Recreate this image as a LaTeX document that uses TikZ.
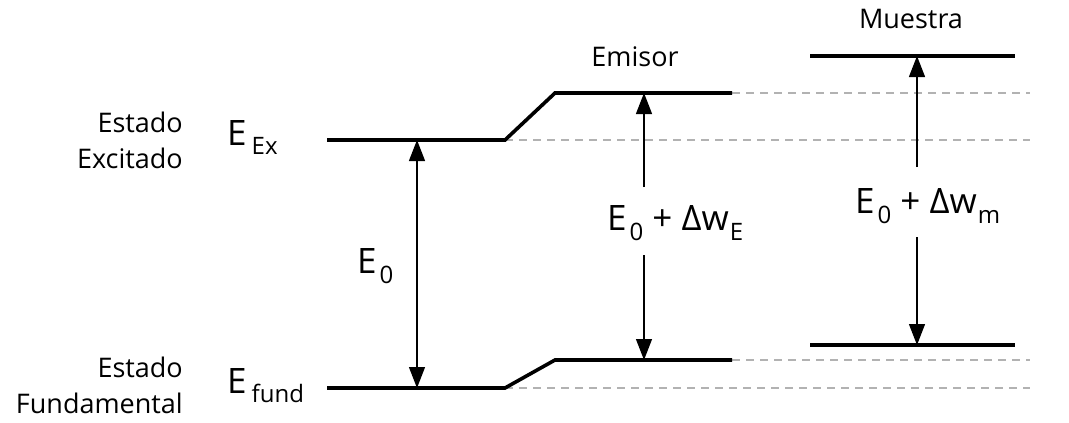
\documentclass[tikz,border=0pt]{standalone}
\usepackage{fontspec}
\setmainfont{Open Sans}
\usepackage{tikz}
\usetikzlibrary{arrows.meta}

\newcommand{\subE}[3]{E\kern#1pt\raisebox{-#2pt}{\fontsize{24}{24}\selectfont #3}}

\tikzset{
  nivel/.style={line width=3.6pt},
  guia/.style={gray!60, line width=1.6pt, dash pattern=on 8pt off 6pt},
  flecha/.style={line width=1.3pt, -{Triangle[length=21pt,width=16pt]}},
  rotulo/.style={font=\fontsize{27}{33}\selectfont, inner sep=0pt},
  energia/.style={font=\fontsize{35}{40}\selectfont, inner sep=0pt, anchor=base west},
}

\begin{document}
\begin{tikzpicture}[x=1pt,y=-1pt]
            \useasboundingbox (0,0) rectangle (1069,423);
            \coordinate (exA) at (327,140);
            \coordinate (exB) at (505,140);
            \coordinate (emA) at (555,93);
            \coordinate (emB) at (732,93);
            \coordinate (fuA) at (327,388);
            \coordinate (fuB) at (505,388);
            \coordinate (efA) at (555,360);
            \coordinate (efB) at (732,360);
            \coordinate (muA) at (810,56);
            \coordinate (muB) at (1015,56);
            \coordinate (mfA) at (810,345);
            \coordinate (mfB) at (1015,345);
            \draw[guia] (emB) -- (1030,93) coordinate (emFin);
            \draw[guia] (exB) -- (1030,140) coordinate (exFin);
            \draw[guia] (efB) -- (1030,360) coordinate (efFin);
            \draw[guia] (fuB) -- (1030,388) coordinate (fuFin);
            \draw[nivel] (exA) -- (exB) -- (emA) -- (emB);
            \draw[nivel] (fuA) -- (fuB) -- (efA) -- (efB);
            \draw[nivel] (muA) -- (muB);
            \draw[nivel] (mfA) -- (mfB);
            \node[rotulo, anchor=base east] (estA) at (183,132) {Estado};
            \node[rotulo, anchor=base east] (estB) at (183,168) {Excitado};
            \node[rotulo, anchor=base east] (estC) at (183,377) {Estado};
            \node[rotulo, anchor=base east] (estD) at (183,413) {Fundamental};
            \node[energia] (eEx) at (227,145) {\subE{5}{9}{Ex}};
            \node[energia] (eFund) at (227,393) {\subE{5}{9}{fund}};
            \node[rotulo, anchor=base] (emisor) at (635,66) {Emisor};
            \node[rotulo, anchor=base] (muestra) at (911,28) {Muestra};
            \node[energia] (eCero) at (357,273) {\subE{3}{10}{0}};
            \node[energia] (eEmisor) at (607,230) {\subE{3}{10}{0} + Δw\kern1pt\raisebox{-10pt}{\fontsize{24}{24}\selectfont E}};
            \node[energia] (eMuestra) at (855,213) {\subE{3}{10}{0} + Δw\kern1pt\raisebox{-10pt}{\fontsize{24}{24}\selectfont m}};
            \coordinate (ceroArr) at (417,140);
            \coordinate (ceroAbj) at (417,388);
            \coordinate (emArr) at (644,93);
            \coordinate (emAbj) at (644,360);
            \coordinate (emGapA) at (644,187);
            \coordinate (emGapB) at (644,255);
            \coordinate (muArr) at (917,56);
            \coordinate (muAbj) at (917,345);
            \coordinate (muGapA) at (917,167);
            \coordinate (muGapB) at (917,237);
            \draw[flecha, {Triangle[length=21pt,width=16pt]}-{Triangle[length=21pt,width=16pt]}] (ceroArr) -- (ceroAbj);
            \draw[flecha] (emGapA) -- (emArr);
            \draw[flecha] (emGapB) -- (emAbj);
            \draw[flecha] (muGapA) -- (muArr);
            \draw[flecha] (muGapB) -- (muAbj);
\end{tikzpicture}
\end{document}
